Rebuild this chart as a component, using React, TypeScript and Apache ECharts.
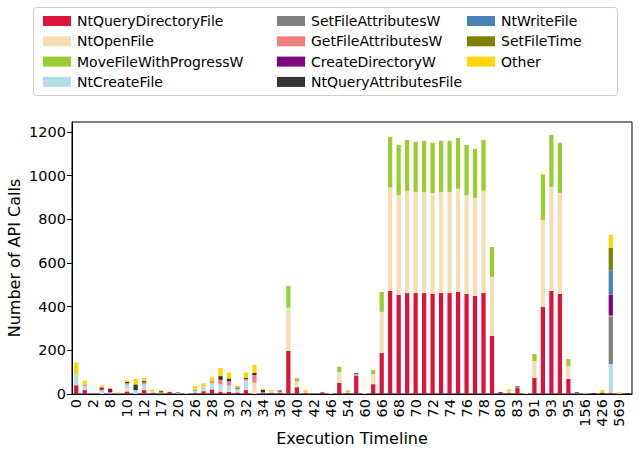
import React, { useEffect, useRef } from "react";
import * as echarts from "echarts";

const categories = [
  "0", "1", "2", "7", "8", "9", "10", "11", "12", "14", "17", "18", "20", "22", "26", "27", "28", "29", "30", "31",
  "32", "33", "34", "35", "36", "39", "40", "41", "42", "44", "46", "52", "54", "57", "60", "63", "66", "67", "68", "69",
  "70", "71", "72", "73", "74", "75", "76", "77", "78", "79", "80", "82", "83", "90", "91", "92", "93", "94", "95", "110",
  "156", "300", "426", "500", "569", "600",
];

const seriesNames = [
  "NtQueryDirectoryFile", "NtOpenFile", "MoveFileWithProgressW", "NtCreateFile",
  "SetFileAttributesW", "GetFileAttributesW", "CreateDirectoryW", "NtQueryAttributesFile",
  "NtWriteFile", "SetFileTime", "Other",
];

const seriesColors = [
  "#DC143C", "#F5DEB3", "#9ACD32", "#B0E0E6",
  "#808080", "#F08080", "#800080", "#333333",
  "#4682B4", "#808000", "#FFD700",
];

const ntQueryDirectoryFile = [
  40, 18, 0, 0, 0, 0, 12, 0, 18, 5, 3, 9, 0, 0, 5, 13, 21, 9, 11, 7,
  18, 0, 4, 6, 7, 197, 31, 5, 0, 7, 0, 52, 5, 85, 0, 45, 188, 472, 453, 462,
  462, 462, 458, 462, 462, 467, 458, 449, 462, 266, 9, 6, 27, 0, 73, 398, 472, 458, 69, 0,
  0, 0, 0, 6, 0, 0,
];
const ntOpenFile = [
  0, 0, 0, 5, 0, 0, 13, 0, 5, 0, 0, 4, 0, 4, 0, 0, 2, 6, 5, 0,
  0, 51, 0, 0, 4, 198, 26, 0, 0, 0, 4, 49, 0, 5, 4, 46, 188, 473, 458, 468,
  463, 463, 462, 463, 463, 473, 453, 449, 468, 270, 0, 0, 3, 4, 78, 399, 476, 462, 59, 0,
  0, 0, 0, 0, 0, 0,
];
const moveFileWithProgressW = [
  0, 0, 0, 0, 0, 0, 0, 0, 0, 0, 0, 0, 0, 0, 0, 0, 0, 0, 0, 0,
  0, 0, 0, 0, 0, 100, 15, 0, 0, 0, 0, 23, 0, 0, 0, 18, 91, 232, 229, 233,
  229, 234, 230, 234, 234, 232, 229, 224, 233, 137, 0, 0, 0, 0, 32, 206, 238, 230, 32, 0,
  0, 0, 0, 0, 0, 0,
];
const ntCreateFile = [
  50, 18, 0, 10, 3, 0, 18, 18, 21, 7, 4, 0, 4, 0, 10, 20, 27, 29, 22, 14,
  44, 0, 3, 6, 0, 0, 0, 5, 0, 0, 0, 0, 4, 0, 0, 0, 0, 0, 0, 0,
  0, 0, 0, 0, 0, 0, 0, 0, 0, 0, 0, 7, 0, 0, 0, 0, 0, 0, 0, 3,
  3, 0, 0, 131, 4, 0,
];
const setFileAttributesW = [
  0, 0, 0, 0, 0, 0, 0, 0, 0, 0, 0, 0, 0, 0, 0, 0, 0, 0, 0, 0,
  0, 0, 0, 0, 0, 0, 0, 0, 0, 0, 0, 0, 0, 0, 0, 0, 0, 0, 0, 0,
  0, 0, 0, 0, 0, 0, 0, 0, 0, 0, 0, 0, 0, 0, 0, 0, 0, 0, 0, 0,
  0, 0, 0, 217, 0, 0,
];
const getFileAttributesW = [
  0, 5, 0, 5, 5, 6, 7, 0, 9, 0, 0, 0, 0, 0, 0, 0, 9, 21, 20, 4,
  7, 36, 0, 0, 0, 0, 0, 0, 0, 0, 0, 0, 0, 0, 0, 0, 0, 0, 0, 0,
  0, 0, 0, 0, 0, 0, 0, 0, 0, 0, 0, 0, 0, 0, 0, 0, 0, 0, 0, 0,
  0, 0, 0, 5, 0, 0,
];
const createDirectoryW = [
  0, 0, 0, 10, 15, 0, 0, 0, 0, 0, 0, 0, 0, 0, 0, 0, 0, 0, 0, 0,
  0, 0, 0, 0, 0, 0, 0, 0, 0, 0, 0, 0, 0, 0, 0, 0, 0, 0, 0, 0,
  0, 0, 0, 0, 0, 0, 0, 0, 0, 0, 0, 0, 0, 0, 0, 0, 0, 0, 0, 5,
  0, 4, 0, 95, 0, 4,
];
const ntQueryAttributesFile = [
  0, 0, 0, 0, 0, 0, 5, 26, 6, 0, 6, 0, 3, 0, 0, 0, 0, 17, 13, 5,
  6, 9, 13, 0, 5, 0, 0, 0, 0, 0, 0, 0, 0, 5, 0, 0, 0, 0, 0, 0,
  0, 0, 0, 0, 0, 0, 0, 0, 0, 0, 0, 0, 5, 0, 0, 0, 0, 0, 0, 0,
  0, 0, 6, 0, 0, 0,
];
const ntWriteFile = [
  0, 0, 0, 0, 0, 0, 0, 0, 0, 0, 0, 0, 0, 0, 3, 0, 0, 0, 0, 0,
  0, 0, 0, 0, 0, 0, 0, 0, 0, 2, 0, 0, 3, 0, 0, 0, 0, 0, 0, 0,
  0, 0, 0, 0, 0, 0, 0, 0, 0, 0, 0, 0, 0, 0, 0, 0, 0, 0, 0, 0,
  0, 0, 0, 111, 0, 0,
];
const setFileTime = [
  0, 0, 0, 0, 0, 0, 0, 0, 0, 0, 0, 0, 0, 0, 0, 0, 0, 0, 0, 0,
  0, 0, 0, 0, 0, 0, 0, 0, 0, 0, 0, 0, 0, 0, 0, 0, 0, 0, 0, 0,
  0, 0, 0, 0, 0, 0, 0, 0, 0, 0, 0, 0, 0, 0, 0, 0, 0, 0, 0, 0,
  0, 0, 0, 104, 0, 0,
];
const other = [
  55, 20, 0, 10, 5, 0, 8, 26, 14, 9, 5, 0, 0, 0, 18, 16, 17, 37, 27, 8,
  24, 37, 5, 6, 0, 0, 0, 8, 0, 0, 0, 0, 6, 0, 0, 0, 0, 0, 0, 0,
  0, 0, 0, 0, 0, 0, 0, 0, 0, 0, 0, 9, 0, 0, 0, 5, 0, 0, 0, 0,
  3, 0, 12, 60, 4, 0,
];

const seriesData = [
  ntQueryDirectoryFile, ntOpenFile, moveFileWithProgressW, ntCreateFile,
  setFileAttributesW, getFileAttributesW, createDirectoryW, ntQueryAttributesFile,
  ntWriteFile, setFileTime, other,
];

const yTicks = [0, 200, 400, 600, 800, 1000, 1200];

const FONT = "DejaVu Sans";

export default function App() {
  const ref = useRef<HTMLDivElement>(null);
  useEffect(() => {
    if (!ref.current) return;
    const chart = echarts.init(ref.current, undefined, { renderer: "svg" });
    const legendBase = {
      orient: "vertical",
      top: 9,
      itemWidth: 28,
      itemHeight: 10,
      itemGap: 6.3,
      selectedMode: false,
      icon: "rect",
      textStyle: { fontFamily: FONT, fontSize: 14, color: "#000", padding: [0, 0, 0, 1] },
    };
    chart.setOption({
      animation: false,
      legend: [
        { ...legendBase, left: 38, data: seriesNames.slice(0, 4) },
        { ...legendBase, left: 272, data: seriesNames.slice(4, 8) },
        { ...legendBase, left: 462, data: seriesNames.slice(8, 11) },
      ],
      graphic: [
        {
          type: "rect",
          shape: { x: 33.5, y: 7.5, width: 584, height: 88, r: 3 },
          style: { fill: "none", stroke: "#cccccc", lineWidth: 1 },
        },
      ],
      grid: {
        left: 72,
        right: 7,
        top: 122,
        bottom: 60,
        containLabel: false,
        outerBoundsMode: "none",
        show: true,
        borderColor: "#000",
        borderWidth: 1,
      },
      xAxis: {
        type: "category",
        data: categories,
        name: "Execution Timeline",
        nameLocation: "middle",
        nameGap: 36,
        nameMoveOverlap: false,
        nameTextStyle: { fontFamily: FONT, fontSize: 16, color: "#000", verticalAlign: "top" },
        axisLine: { lineStyle: { color: "#000", width: 1 } },
        axisTick: { interval: 1, alignWithLabel: true, length: 5, lineStyle: { color: "#000" } },
        axisLabel: {
          interval: 1,
          rotate: 90,
          margin: 5,
          fontFamily: FONT,
          fontSize: 14.5,
          color: "#000",
        },
      },
      yAxis: {
        type: "value",
        min: 0,
        max: 1245,
        name: "Number of API Calls",
        nameLocation: "middle",
        nameGap: 50,
        nameMoveOverlap: false,
        nameTextStyle: { fontFamily: FONT, fontSize: 16, color: "#000", verticalAlign: "bottom" },
        splitLine: { show: false },
        axisLine: { show: true, lineStyle: { color: "#000", width: 1 } },
        axisTick: { show: true, length: 5, customValues: yTicks, lineStyle: { color: "#000" } },
        axisLabel: {
          customValues: yTicks,
          formatter: (v: number) => String(v),
          margin: 6,
          fontFamily: FONT,
          fontSize: 14.5,
          color: "#000",
        },
      },
      series: seriesNames.map((name, i) => ({
        name,
        type: "bar",
        stack: "total",
        barWidth: "50%",
        data: seriesData[i],
        itemStyle: { color: seriesColors[i] },
        emphasis: { disabled: true },
      })),
    });
    return () => chart.dispose();
  }, []);
  return (
    <div
      ref={ref}
      style={{ position: "absolute", left: 0, top: 0, width: 639, height: 454 }}
    />
  );
}
